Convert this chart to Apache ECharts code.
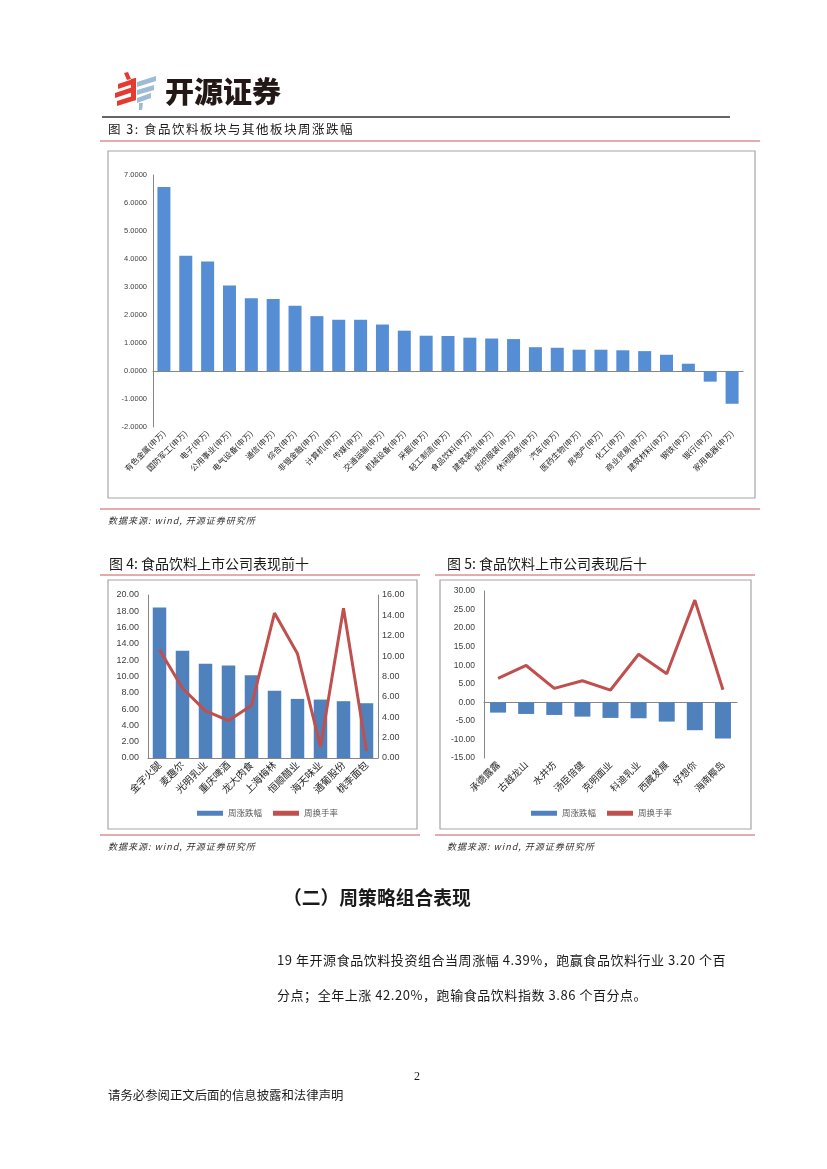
<!DOCTYPE html>
<html><head><meta charset="utf-8">
<script src="https://cdn.jsdelivr.net/npm/echarts@6.0.0/dist/echarts.min.js"></script>
<style>
html,body{margin:0;padding:0;background:#fff}
#page{position:relative;width:827px;height:1169px;overflow:hidden}
#c{position:absolute;left:0;top:0;width:827px;height:1169px}
.t{position:absolute;white-space:nowrap;font-family:"Noto Sans CJK SC",sans-serif;color:#1a1a1a;line-height:1}
.fig{font-size:12.5px;letter-spacing:1.5px}
.src{font-size:9px;letter-spacing:1px;font-style:italic;color:#333}
</style>
</head><body>
<div id="page">
<div id="c"></div>
<div class="t" style="left:165px;top:76px;font-size:29px;font-weight:900;color:#231815">开源证券</div>
<div class="t fig" style="left:108px;top:123px">图 3: 食品饮料板块与其他板块周涨跌幅</div>
<div class="t src" style="left:108px;top:516px">数据来源: wind, 开源证券研究所</div>
<div class="t src" style="left:108px;top:842px">数据来源: wind, 开源证券研究所</div>
<div class="t src" style="left:447px;top:842px">数据来源: wind, 开源证券研究所</div>
<div class="t" style="left:283px;top:888px;font-size:18.8px;font-weight:bold">（二）周策略组合表现</div>
<div class="t" style="left:277px;top:953px;font-size:13px;letter-spacing:0.55px">19 年开源食品饮料投资组合当周涨幅 4.39%，跑赢食品饮料行业 3.20 个百</div>
<div class="t" style="left:277px;top:988px;font-size:13px;letter-spacing:0.55px">分点；全年上涨 42.20%，跑输食品饮料指数 3.86 个百分点。</div>
<div class="t" style="left:414px;top:1070px;font-size:12px;font-family:'Liberation Serif',serif">2</div>
<div class="t" style="left:108px;top:1089px;font-size:12.4px">请务必参阅正文后面的信息披露和法律声明</div>
</div>
<script>
// ---- data ----
const sectorCats = ['有色金属(申万)','国防军工(申万)','电子(申万)','公用事业(申万)','电气设备(申万)','通信(申万)','综合(申万)','非银金融(申万)','计算机(申万)','传媒(申万)','交通运输(申万)','机械设备(申万)','采掘(申万)','轻工制造(申万)','食品饮料(申万)','建筑装饰(申万)','纺织服装(申万)','休闲服务(申万)','汽车(申万)','医药生物(申万)','房地产(申万)','化工(申万)','商业贸易(申万)','建筑材料(申万)','钢铁(申万)','银行(申万)','家用电器(申万)'];
const sectorChange = [6.57,4.12,3.91,3.05,2.60,2.57,2.33,1.96,1.83,1.83,1.66,1.44,1.26,1.25,1.19,1.16,1.14,0.85,0.83,0.76,0.76,0.74,0.71,0.58,0.26,-0.38,-1.17];
const sectorAxis = {min:-2, max:7, interval:1};

const topCats = ['金字火腿','麦趣尔','光明乳业','重庆啤酒','龙大肉食','上海梅林','恒顺醋业','海天味业','通葡股份','桃李面包'];
const topChange = [18.48,13.16,11.56,11.35,10.16,8.24,7.25,7.17,6.97,6.72];
const topTurnover = [10.62,6.85,4.62,3.67,5.15,14.23,10.23,1.11,14.69,0.69];
const topAxisL = {min:0, max:20, interval:2};
const topAxisR = {min:0, max:16, interval:2};

const bottomCats = ['承德露露','古越龙山','水井坊','汤臣倍健','克明面业','科迪乳业','西藏发展','好想你','海南椰岛'];
const bottomChange = [-2.77,-3.13,-3.40,-3.85,-4.20,-4.29,-5.19,-7.51,-9.75];
const bottomTurnover = [6.44,9.93,3.76,5.81,3.31,12.97,7.69,27.55,3.40];
const bottomAxis = {min:-15, max:30, interval:5};

const legendNames = ['周涨跌幅','周换手率'];
const figTitles = ['图 4: 食品饮料上市公司表现前十','图 5: 食品饮料上市公司表现后十'];

// ---- styles ----
const BAR1 = '#558ED5', BAR = '#4F81BD', LINE = '#C0504D', AX = '#868686', TXT = '#404040', RED = '#C9585C';
const numFont = 'Liberation Sans';
const cjkFont = 'Noto Sans CJK SC';

function yAx(cfg, gridIndex, digits, fs, margin, extra) {
  return Object.assign({
    type:'value', gridIndex, min:cfg.min, max:cfg.max, interval:cfg.interval,
    axisLine:{show:true, lineStyle:{color:AX, width:1}},
    axisTick:{show:false}, splitLine:{show:false},
    axisLabel:{formatter:v=>v.toFixed(digits), fontSize:fs, color:TXT, fontFamily:numFont, margin}
  }, extra||{});
}
function xAx(cats, gridIndex, fs, showLine) {
  return {
    type:'category', gridIndex, data:cats,
    axisLine:{show:showLine, onZero:false, lineStyle:{color:AX, width:1}},
    axisTick:{show:false},
    axisLabel:{rotate:45, fontSize:fs, color:'#262626', fontFamily:cjkFont, margin:5, interval:0}
  };
}
function zeroAx(cats, gridIndex, yIdx) {
  return {
    type:'category', gridIndex, data:cats, position:'bottom',
    axisLine:{show:true, onZero:true, onZeroAxisIndex:yIdx, lineStyle:{color:AX, width:1}},
    axisTick:{show:false}, axisLabel:{show:false}, splitLine:{show:false}
  };
}

// logo shapes (decoration)
const redShapes = [
  [[124,73],[128,72],[131,79],[127,80]],
  [[118,84],[136,78],[136,83],[118,89]],
  [[115,93],[136,86],[136,91],[115,98]],
  [[117,101],[136,95],[136,100],[117,106]],
  [[131,79],[136,78],[136,100],[131,101]]
];
const blueShapes = [
  [[137,82],[156,76],[156,81],[137,87]],
  [[137,90],[154,85],[154,90],[137,95]],
  [[137,98],[151,93],[151,98],[137,103]],
  [[139,103],[143,103],[142,110],[139,110]]
];
const graphics = [];
redShapes.forEach(p=>graphics.push({type:'polygon', shape:{points:p}, style:{fill:'#E53A30'}}));
blueShapes.forEach(p=>graphics.push({type:'polygon', shape:{points:p}, style:{fill:'#9DBBD3'}}));
[[102,117,730,117,'#333',1.5],[100,141,760,141,RED,1],[100,509,760,509,RED,1],
 [100,575,420,575,RED,1],[435,575,755,575,RED,1],[100,835,420,835,RED,1],[435,835,755,835,RED,1]]
 .forEach(l=>graphics.push({type:'line', shape:{x1:l[0],y1:l[1],x2:l[2],y2:l[3]}, style:{stroke:l[4], lineWidth:l[5]}}));
[[108,151,647,347],[108,580,309,249],[440,580,311,249]]
 .forEach(r=>graphics.push({type:'rect', shape:{x:r[0],y:r[1],width:r[2],height:r[3]}, style:{fill:'none', stroke:'#A6A6A6', lineWidth:1.2}}));
graphics.push({type:'text', left:109, top:557, style:{text:figTitles[0], fontSize:14, fontFamily:cjkFont, fill:'#1a1a1a'}});
graphics.push({type:'text', left:447, top:557, style:{text:figTitles[1], fontSize:14, fontFamily:cjkFont, fill:'#1a1a1a'}});

function legendAt(left, top) {
  return {left, top, padding:0, itemWidth:26, itemHeight:5, itemGap:11,
    textStyle:{fontSize:8.5, color:'#595959', fontFamily:cjkFont},
    data:[{name:legendNames[0], icon:'rect'},{name:legendNames[1], icon:'rect'}]};
}

const chart = echarts.init(document.getElementById('c'), null, {renderer:'canvas'});
chart.setOption({
  backgroundColor:'#fff',
  animation:false,
  tooltip:{show:false},
  graphic: graphics,
  grid:[
    {left:153, top:175, width:590, height:252},
    {left:148, top:595, width:230, height:163},
    {left:484, top:591, width:253, height:167}
  ],
  xAxis:[
    xAx(sectorCats, 0, 8, false),
    xAx(topCats, 1, 10, true),
    xAx(bottomCats, 2, 9.5, false),
    zeroAx(sectorCats, 0, 0),
    zeroAx(bottomCats, 2, 3)
  ],
  yAxis:[
    yAx(sectorAxis, 0, 4, 7.5, 6),
    yAx(topAxisL, 1, 2, 9, 9),
    yAx(topAxisR, 1, 2, 9, 4, {position:'right'}),
    yAx(bottomAxis, 2, 2, 8.5, 9)
  ],
  legend:[ legendAt(197, 809), legendAt(531, 809) ],
  series:[
    {type:'bar', name:'板块涨跌幅', xAxisIndex:0, yAxisIndex:0, data:sectorChange, barWidth:13, itemStyle:{color:BAR1}},
    {type:'bar', name:legendNames[0], xAxisIndex:1, yAxisIndex:1, data:topChange, barWidth:13.5, itemStyle:{color:BAR}},
    {type:'line', name:legendNames[1], xAxisIndex:1, yAxisIndex:2, data:topTurnover, symbol:'none',
     lineStyle:{color:LINE, width:3}, itemStyle:{color:LINE}},
    {type:'bar', name:legendNames[0], xAxisIndex:2, yAxisIndex:3, data:bottomChange, barWidth:16, itemStyle:{color:BAR}},
    {type:'line', name:legendNames[1], xAxisIndex:2, yAxisIndex:3, data:bottomTurnover, symbol:'none',
     lineStyle:{color:LINE, width:3}, itemStyle:{color:LINE}}
  ]
});
</script>
</body></html>
